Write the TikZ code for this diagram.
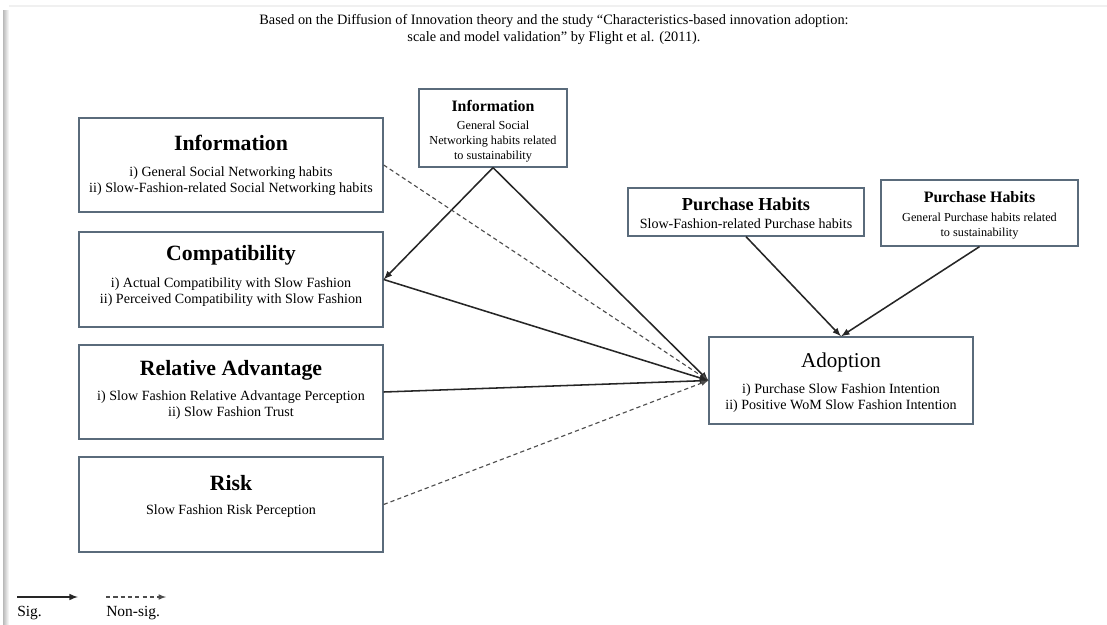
\documentclass[tikz,border=0pt]{standalone}
\usepackage{fontspec}
\setmainfont{Liberation Serif}
\definecolor{boxline}{HTML}{5A6B7B}
\begin{document}
\begin{tikzpicture}[x=0.025cm,y=-0.025cm]
	\tikzset{>=latex}
	\tikzset{box/.style={draw=boxline,line width=0.9pt,inner sep=0pt},
		bighead/.style={font=\fontsize{15.5}{18}\selectfont\bfseries},
		smallhead/.style={font=\fontsize{11.3}{13}\selectfont\bfseries},
		body/.style={align=center,font=\fontsize{10}{11.4}\selectfont},
		smallbody/.style={align=center,font=\fontsize{8.7}{10.7}\selectfont},
		sig/.style={->,line width=1.1pt,black!85},
		nonsig/.style={->,line width=0.8pt,black!70,dash pattern=on 3pt off 2.2pt}}
	\useasboundingbox (0,0) rectangle (1107,625);
	
	% screenshot shadow
	\shade[left color=gray!55,right color=white] (3,10) rectangle (9,625);
	\draw[gray!12,line width=1pt] (9,6) -- (1107,6);
	
	% header
	\node[align=center,font=\fontsize{10.2}{12}\selectfont] (note) at (554,29.5)
	{Based on the Diffusion of Innovation theory and the study “Characteristics-based innovation adoption:\\
		scale and model validation” by Flight et al. (2011).};
	
	% left column
	\node[box,minimum width=7.6cm,minimum height=2.35cm] (info) at (231,165) {};
	\node[bighead] (infoT) at (231,143) {Information};
	\node[body] (infoB) at (231,181) {i) General Social Networking habits\\ii) Slow-Fashion-related Social Networking habits};
	
	\node[box,minimum width=7.6cm,minimum height=2.375cm] (compat) at (231,279.5) {};
	\node[bighead] (compatT) at (231,255) {Compatibility};
	\node[body] (compatB) at (231,292) {i) Actual Compatibility with Slow Fashion\\ii) Perceived Compatibility with Slow Fashion};
	
	\node[box,minimum width=7.6cm,minimum height=2.35cm] (relad) at (231,392) {};
	\node[bighead] (reladT) at (231,370) {Relative Advantage};
	\node[body] (reladB) at (231,405.5) {i) Slow Fashion Relative Advantage Perception\\ii) Slow Fashion Trust};
	
	\node[box,minimum width=7.6cm,minimum height=2.375cm] (risk) at (231,504.5) {};
	\node[bighead] (riskT) at (231,483) {Risk};
	\node[body] (riskB) at (231,511) {Slow Fashion Risk Perception};
	
	% top information box
	\node[box,minimum width=3.7cm,minimum height=1.95cm] (infotop) at (493,128) {};
	\node[smallhead] (infotopT) at (493,106) {Information};
	\node[smallbody] (infotopB) at (493,142) {General Social\\Networking habits related\\to sustainability};
	
	% purchase habits
	\node[box,minimum width=5.9cm,minimum height=1.2cm] (phslow) at (746,212) {};
	\node[font=\fontsize{13}{15}\selectfont\bfseries] (phslowT) at (746,204) {Purchase Habits};
	\node[body] (phslowB) at (746,224) {Slow-Fashion-related Purchase habits};
	
	\node[box,minimum width=4.925cm,minimum height=1.65cm] (phgen) at (979.5,213) {};
	\node[smallhead] (phgenT) at (979.5,197) {Purchase Habits};
	\node[smallbody] (phgenB) at (979.5,226) {General Purchase habits related\\to sustainability};
	
	% adoption
	\node[box,minimum width=6.6cm,minimum height=2.175cm] (adopt) at (841,380.5) {};
	\node[font=\fontsize{15}{17}\selectfont] (adoptT) at (841,362) {Adoption};
	\node[body] (adoptB) at (841,398) {i) Purchase Slow Fashion Intention\\ii) Positive WoM Slow Fashion Intention};
	
	% paths
	\draw[sig] (infotop.south) -- (compat.east);
	\draw[sig] (infotop.south) -- (adopt.west);
	\draw[nonsig] (info.east) -- (adopt.west);
	\draw[sig] (compat.east) -- (adopt.west);
	\draw[sig] (relad.east) -- (adopt.west);
	\draw[nonsig] (risk.east) -- (adopt.west);
	\draw[sig] (phslow.south) -- (adopt.north);
	\draw[sig] (phgen.south) -- (adopt.north);
	
	% legend
	\coordinate (s1) at (17,597);
	\coordinate (s2) at (78,597);
	\coordinate (n1) at (106,597);
	\coordinate (n2) at (166,597);
	\draw[sig] (s1) -- (s2);
	\draw[nonsig] (n1) -- (n2);
	\node[right,inner sep=0pt,font=\fontsize{11}{13}\selectfont] (sigL) at (17,613) {Sig.};
	\node[right,inner sep=0pt,font=\fontsize{11}{13}\selectfont] (nonsigL) at (106,613) {Non-sig.};
	
\end{tikzpicture}
\end{document}
